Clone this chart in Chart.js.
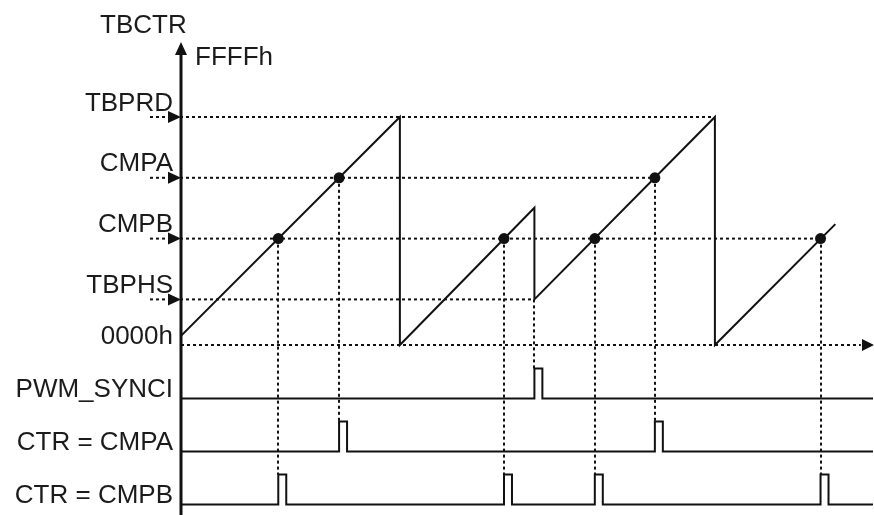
<!DOCTYPE html>
<html><head><meta charset="utf-8">
<script src="https://cdn.jsdelivr.net/npm/chart.js@4/dist/chart.umd.min.js"></script>
<style>html,body{margin:0;padding:0;background:#fff}#wrap{width:874px;height:515px}</style>
</head><body><div id="wrap"><canvas id="c" width="874" height="515"></canvas></div>
<script>
// ---------- data ----------
const levelLabels = ['TBPRD', 'CMPA', 'CMPB', 'TBPHS', '0000h'];
const levelValues = [600, 440, 280, 120, 0];
const levelEnds   = [1405, 1247, 1683, 930, 1789];   // time where each dotted guide ends
const counterTimes  = [0, 576, 576, 930, 930, 1405, 1405, 1722];
const counterValues = [24, 600, 0, 361, 120, 600, 0, 318];
const cmpaHits = [416, 1247];
const cmpbHits = [256, 850, 1089, 1683];
const syncEvents = [930];
const signalLabels = ['PWM_SYNCI', 'CTR = CMPA', 'CTR = CMPB'];
const pulseWidth = 21;
const timeEnd = 1821;
const axisTitle = 'TBCTR';
const axisMaxLabel = 'FFFFh';

// ---------- layout (styling only) ----------
const W = 874, H = 515, LEFT = 181, K = 0.38, ZERO_Y = 345;
const SIG_BASE = [398.5, 451.5, 504.5], PULSE_PX = 30;
const INK = '#111';
const FONT = '26px "Liberation Sans", Arial, Helvetica, sans-serif';
const stubStart = -(LEFT - 150) / K;

const val = (name) => levelValues[levelLabels.indexOf(name)];

function pulseTrain(events) {
  const pts = [{x: 0, y: 0}];
  events.forEach(t => {
    pts.push({x: t, y: 0}, {x: t, y: 1}, {x: t + pulseWidth, y: 1}, {x: t + pulseWidth, y: 0});
  });
  pts.push({x: timeEnd, y: 0});
  return pts;
}

const datasets = [];
levelLabels.forEach((name, i) => {
  datasets.push({
    data: [{x: name === '0000h' ? 0 : stubStart, y: levelValues[i]}, {x: levelEnds[i], y: levelValues[i]}],
    yAxisID: 'y', borderColor: INK, borderWidth: 2, borderDash: [3, 3],
    pointRadius: 0, clip: false, order: 5
  });
});
datasets.push({
  data: counterTimes.map((t, i) => ({x: t, y: counterValues[i]})),
  yAxisID: 'y', borderColor: INK, borderWidth: 2, pointRadius: 0, tension: 0, order: 2
});
datasets.push({
  data: cmpaHits.map(t => ({x: t, y: val('CMPA')})).concat(cmpbHits.map(t => ({x: t, y: val('CMPB')}))),
  yAxisID: 'y', showLine: false, pointRadius: 5.5, pointBackgroundColor: INK, pointBorderColor: INK,
  pointBorderWidth: 0, order: 1
});
[syncEvents, cmpaHits, cmpbHits].forEach((ev, i) => {
  datasets.push({
    data: pulseTrain(ev), yAxisID: 's' + i, borderColor: INK, borderWidth: 2,
    pointRadius: 0, tension: 0, order: 3
  });
});

const scales = {
  x: {type: 'linear', min: 0, max: (W - LEFT) / K, display: false},
  y: {type: 'linear', min: -(H - ZERO_Y) / K, max: ZERO_Y / K, display: false}
};
SIG_BASE.forEach((b, i) => {
  scales['s' + i] = {type: 'linear', min: -(H - b) / PULSE_PX, max: b / PULSE_PX, display: false};
});

function tri(ctx, pts) {
  ctx.beginPath(); ctx.moveTo(pts[0][0], pts[0][1]);
  ctx.lineTo(pts[1][0], pts[1][1]); ctx.lineTo(pts[2][0], pts[2][1]);
  ctx.closePath(); ctx.fill();
}

const decor = {
  id: 'decor',
  beforeDatasetsDraw(chart) {
    const {ctx} = chart, xs = chart.scales.x, ys = chart.scales.y;
    ctx.save();
    ctx.strokeStyle = INK; ctx.lineWidth = 2; ctx.setLineDash([3, 3]);
    const drop = (t, v, sIdx) => {
      const x = Math.round(xs.getPixelForValue(t));
      ctx.beginPath();
      ctx.moveTo(x, ys.getPixelForValue(v));
      ctx.lineTo(x, chart.scales['s' + sIdx].getPixelForValue(1));
      ctx.stroke();
    };
    syncEvents.forEach(t => drop(t, val('TBPHS'), 0));
    cmpaHits.forEach(t => drop(t, val('CMPA'), 1));
    cmpbHits.forEach(t => drop(t, val('CMPB'), 2));
    ctx.restore();
  },
  afterDatasetsDraw(chart) {
    const {ctx} = chart, xs = chart.scales.x, ys = chart.scales.y;
    const ax = chart.chartArea.left;
    ctx.save();
    ctx.fillStyle = INK; ctx.strokeStyle = INK;
    // vertical axis
    ctx.lineWidth = 3; ctx.setLineDash([]);
    ctx.beginPath(); ctx.moveTo(ax, 52); ctx.lineTo(ax, H); ctx.stroke();
    tri(ctx, [[ax, 42], [ax - 6, 55], [ax + 6, 55]]);
    // level arrows
    levelLabels.forEach((name, i) => {
      if (name === '0000h') return;
      const y = ys.getPixelForValue(levelValues[i]);
      tri(ctx, [[ax, y], [ax - 13, y - 6], [ax - 13, y + 6]]);
    });
    // time arrow
    const y0 = ys.getPixelForValue(0);
    const xe = xs.getPixelForValue(timeEnd);
    tri(ctx, [[xe + 1, y0], [xe - 11, y0 - 6], [xe - 11, y0 + 6]]);
    // labels
    ctx.font = FONT; ctx.fillStyle = '#1b1b1b';
    ctx.textAlign = 'right'; ctx.textBaseline = 'alphabetic';
    levelLabels.forEach((name, i) => {
      const y = ys.getPixelForValue(levelValues[i]);
      ctx.fillText(name, 173, y + (name === '0000h' ? -1 : -6.5));
    });
    signalLabels.forEach((name, i) => {
      const y = chart.scales['s' + i].getPixelForValue(0);
      ctx.fillText(name, 173, y - 1.5);
    });
    ctx.textAlign = 'left';
    ctx.fillText(axisTitle, 100, 33);
    ctx.fillText(axisMaxLabel, 195, 65);
    ctx.restore();
  }
};

new Chart(document.getElementById('c'), {
  type: 'line',
  data: {datasets},
  options: {
    responsive: false, animation: false, parsing: true,
    layout: {autoPadding: false, padding: {left: LEFT, right: 0, top: 0, bottom: 0}},
    scales,
    plugins: {legend: {display: false}, tooltip: {enabled: false}},
    elements: {line: {borderCapStyle: 'butt', borderJoinStyle: 'miter'}}
  },
  plugins: [decor]
});
</script></body></html>
